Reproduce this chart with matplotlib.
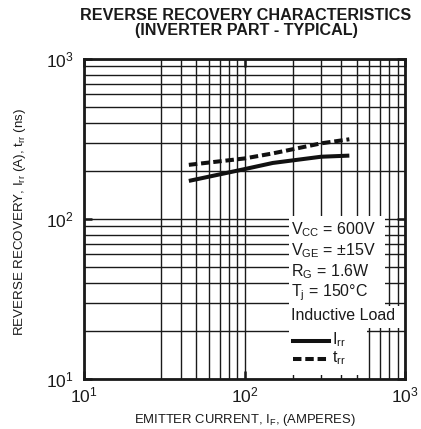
import matplotlib
matplotlib.use("Agg")
import matplotlib.pyplot as plt
from matplotlib.ticker import FixedLocator, LogLocator, NullFormatter
from matplotlib.patches import Rectangle
from matplotlib.lines import Line2D

plt.rcParams['font.family'] = ['Liberation Sans', 'DejaVu Sans']
plt.rcParams['mathtext.fontset'] = 'custom'
plt.rcParams['mathtext.rm'] = 'Liberation Sans'
plt.rcParams['mathtext.it'] = 'Liberation Sans'
plt.rcParams['mathtext.bf'] = 'Liberation Sans:bold'

# Typical reverse recovery curves (inverter part)
emitter_current = [45, 100, 150, 300, 450]          # A
irr = [173, 205, 224, 245, 249]                      # A
trr = [218, 239, 257, 297, 315]                      # ns

x_minor_grid = [30, 40, 50, 60, 70, 80, 90, 200, 300, 400, 500, 600, 700, 800, 900]
conditions = [
    r"V$_{\mathrm{CC}}$ = 600V",
    r"V$_{\mathrm{GE}}$ = ±15V",
    r"R$_{\mathrm{G}}$ = 1.6W",
    r"T$_{\mathrm{j}}$ = 150°C",
    "Inductive Load",
]

W, H = 421, 429
fig = plt.figure(figsize=(W / 100, H / 100), dpi=100)
L, R, T, B = 84, 405, 59, 379
ax = fig.add_axes([L / W, 1 - B / H, (R - L) / W, (B - T) / H])

ax.set_xscale('log')
ax.set_yscale('log')
ax.set_xlim(10, 1000)
ax.set_ylim(10, 1000)

ax.xaxis.set_minor_locator(FixedLocator(x_minor_grid))
ax.yaxis.set_minor_locator(LogLocator(base=10, subs=range(2, 10)))
ax.xaxis.set_minor_formatter(NullFormatter())
ax.yaxis.set_minor_formatter(NullFormatter())

ax.grid(which='both', color='#1a1a1a', linewidth=1.0)
ax.tick_params(which='major', direction='in', length=6, width=1.8,
               top=True, right=True, labelsize=12.5, colors='#1a1a1a')
ax.tick_params(axis='y', which='major', pad=7.5)
ax.tick_params(axis='x', which='major', pad=5)
ax.tick_params(which='minor', length=0, top=True, right=True)
for s in ax.spines.values():
    s.set_linewidth(2.0)
    s.set_color('#1a1a1a')

# White panel behind the condition text and key
def px_rect(x0, y0, x1, y1):
    return Rectangle(((x0 - L) / (R - L), (B - y1) / (B - T)),
                     (x1 - x0) / (R - L), (y1 - y0) / (B - T),
                     transform=ax.transAxes, facecolor='white', edgecolor='none', zorder=1.8)

ax.add_patch(px_rect(289, 216, 385, 306))
ax.add_patch(px_rect(289, 306, 401, 328))
ax.add_patch(px_rect(289, 328, 367, 375))

ax.plot(emitter_current, irr, color='#111111', linewidth=2.9, solid_capstyle='butt', zorder=3)
ax.plot(emitter_current, trr, color='#111111', linewidth=2.9, dashes=(2.1, 0.95),
        dash_capstyle='butt', zorder=3)

def ax_xy(px, py):
    return (px - L) / (R - L), (B - py) / (B - T)

row_y = [230, 251, 272, 293, 315]
for txt, py in zip(conditions, row_y):
    ax.text(*ax_xy(291, py), txt, transform=ax.transAxes, fontsize=11.5,
            va='center', ha='left', color='#1a1a1a', zorder=4)

key_rows = [(341, '-', r"I$_{\mathrm{rr}}$"), (359, '--', r"t$_{\mathrm{rr}}$")]
for py, ls, lab in key_rows:
    x0, y0 = ax_xy(293, py)
    x1, _ = ax_xy(329, py)
    ln = Line2D([x0, x1], [y0, y0], transform=ax.transAxes, color='#111111',
                linewidth=2.9, zorder=4)
    if ls == '--':
        ln.set_dashes((2.1, 0.95))
        ln.set_dash_capstyle('butt')
    ax.add_line(ln)
    ax.text(*ax_xy(332, py - 1), lab, transform=ax.transAxes, fontsize=11.5,
            va='center', ha='left', color='#1a1a1a', zorder=4)

fig.text(246 / W, 1 - 15 / H, "REVERSE RECOVERY CHARACTERISTICS",
         ha='center', va='center', fontsize=11.6, fontweight='bold', color='#1a1a1a')
fig.text(246 / W, 1 - 31 / H, "(INVERTER PART - TYPICAL)",
         ha='center', va='center', fontsize=11.6, fontweight='bold', color='#1a1a1a')

fig.text(245 / W, 1 - 420 / H, r"EMITTER CURRENT, I$_{\mathrm{F}}$, (AMPERES)",
         ha='center', va='center', fontsize=9.4, color='#1a1a1a')
fig.text(20 / W, 1 - 222 / H, r"REVERSE RECOVERY, I$_{\mathrm{rr}}$ (A), t$_{\mathrm{rr}}$ (ns)",
         ha='center', va='center', rotation=90, fontsize=9.6, color='#1a1a1a')

fig.savefig('out.png', dpi=100, facecolor='white')
